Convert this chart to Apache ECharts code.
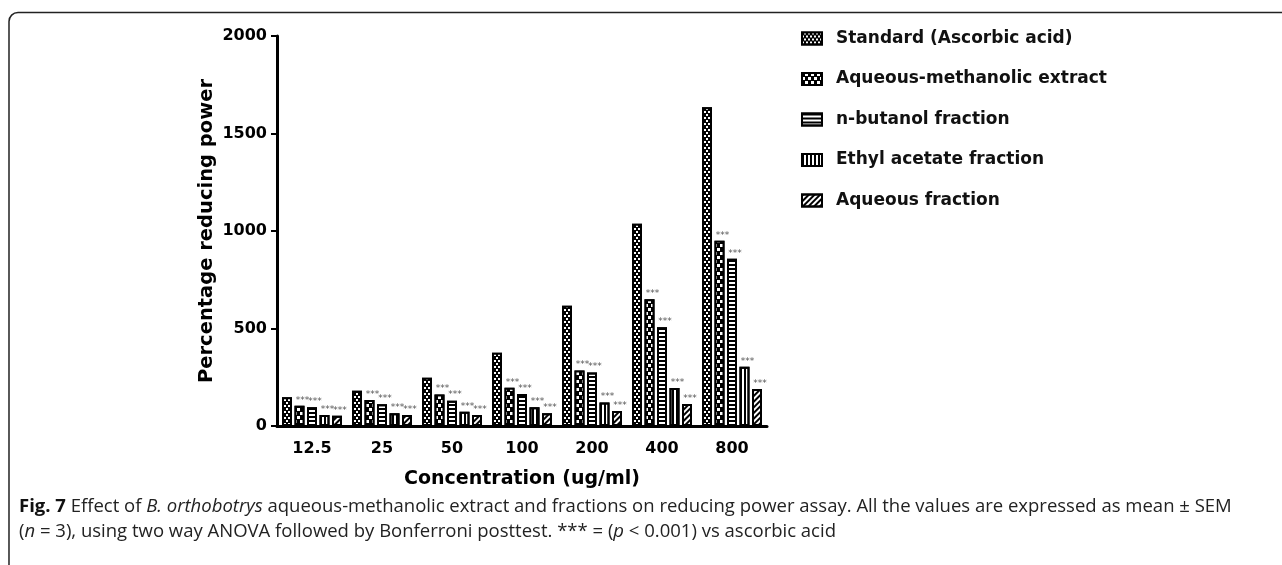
<!DOCTYPE html>
<html style="height: 100%">
<head>
  <meta charset="utf-8">
</head>
<body style="height: 100%; margin: 0; background: #fff">
  <div id="container" style="width: 1282px; height: 565px"></div>

  <script type="text/javascript" src="https://cdn.jsdelivr.net/npm/echarts@6/dist/echarts.min.js"></script>
  <script type="text/javascript">
    // concentrations (ug/ml)
    const categories = ['12.5', '25', '50', '100', '200', '400', '800'];
    const seriesNames = [
      'Standard (Ascorbic acid)',
      'Aqueous-methanolic extract',
      'n-butanol fraction',
      'Ethyl acetate fraction',
      'Aqueous fraction'
    ];
    // percentage reducing power
    const standard = [147, 181, 248, 376, 617, 1037, 1634];
    const aqMethanolic = [104, 133, 162, 196, 284, 650, 950];
    const nButanol = [96, 111, 130, 164, 275, 506, 858];
    const ethylAcetate = [56, 65, 73, 96, 121, 195, 304];
    const aqueous = [53, 56, 56, 65, 77, 113, 190];
    const yTicks = [0, 500, 1000, 1500, 2000];

    var dom = document.getElementById('container');
    var myChart = echarts.init(dom);

    var FONT = 'DejaVu Sans';

    function hatch(color, dx, dy, rot) {
      return {
        symbol: 'rect',
        symbolSize: 1,
        symbolKeepAspect: false,
        color: color,
        backgroundColor: null,
        dashArrayX: dx,
        dashArrayY: dy,
        rotation: rot || 0,
        maxTileWidth: 512,
        maxTileHeight: 512
      };
    }

    // fill + hatch pattern per series (black & white figure)
    const styles = [
      { fill: '#000', decal: hatch('#fff', [[2, 2], [0, 2, 2, 0]], [2, 1]) },
      { fill: '#000', decal: hatch('#fff', [[3, 3], [0, 3, 3, 0]], [3, 1]) },
      { fill: '#fff', decal: hatch('#000', [1, 0], [2, 2]) },
      { fill: '#fff', decal: hatch('#000', [2, 2], [1, 0]) },
      { fill: '#fff', decal: hatch('#000', [1, 0], [2, 2], -Math.PI / 4) }
    ];
    const values = [standard, aqMethanolic, nButanol, ethylAcetate, aqueous];

    const seriesList = values.map(function (data, i) {
      return {
        name: seriesNames[i],
        type: 'bar',
        data: data,
        barWidth: 10,
        barGap: '25%',
        itemStyle: {
          color: styles[i].fill,
          borderColor: '#000',
          borderWidth: 2,
          decal: styles[i].decal
        },
        label: {
          show: i > 0,
          position: 'top',
          distance: 1,
          offset: [3, 0],
          formatter: '***',
          fontSize: 9,
          color: '#555'
        }
      };
    });

    var option = {
      animation: false,
      backgroundColor: '#fff',
      aria: { enabled: true, decal: { show: true } },
      textStyle: { fontFamily: FONT },
      legend: {
        orient: 'vertical',
        left: 796,
        top: 25,
        itemWidth: 20,
        itemHeight: 12,
        itemGap: 23.5,
        icon: 'rect',
        data: seriesNames,
        textStyle: {
          fontFamily: FONT,
          fontSize: 17,
          fontWeight: 'bold',
          color: '#111',
          lineHeight: 12,
          padding: [0, 0, 0, 9]
        },
        itemStyle: { borderColor: '#000', borderWidth: 2 }
      },
      grid: {
        left: 277,
        top: 36,
        width: 490,
        height: 390,
        containLabel: false
      },
      xAxis: {
        type: 'category',
        data: categories,
        name: 'Concentration (ug/ml)',
        nameLocation: 'middle',
        nameGap: 44,
        nameTextStyle: { fontFamily: FONT, fontSize: 19, fontWeight: 'bold', color: '#000' },
        axisLine: { lineStyle: { color: '#000', width: 3 } },
        axisTick: { alignWithLabel: true, length: 6, lineStyle: { width: 2, color: '#000' } },
        axisLabel: { fontFamily: FONT, fontSize: 16, fontWeight: 'bold', color: '#000', margin: 15 }
      },
      yAxis: {
        type: 'value',
        min: yTicks[0],
        max: yTicks[yTicks.length - 1],
        interval: 500,
        name: 'Percentage reducing power',
        nameLocation: 'middle',
        nameGap: 60,
        nameTextStyle: { fontFamily: FONT, fontSize: 19.5, fontWeight: 'bold', color: '#000' },
        splitLine: { show: false },
        axisLine: { show: true, lineStyle: { color: '#000', width: 3 } },
        axisTick: { show: true, length: 6, lineStyle: { width: 2, color: '#000' } },
        axisLabel: {
          fontFamily: FONT, fontSize: 16, fontWeight: 'bold', color: '#000', margin: 10,
          formatter: function (v) { return String(v); }
        }
      },
      graphic: [
        {
          type: 'rect',
          silent: true,
          shape: { x: 9, y: 12.5, width: 1320, height: 620, r: 9 },
          style: { fill: null, stroke: '#222', lineWidth: 1.5 }
        },
        {
          type: 'text',
          left: 19,
          top: 494,
          silent: true,
          style: {
            text: '{b|Fig. 7} Effect of {i|B. orthobotrys} aqueous-methanolic extract and fractions on reducing power assay. All the values are expressed as mean ± SEM\n' +
              '({i|n} = 3), using two way ANOVA followed by Bonferroni posttest. *** = ({i|p} < 0.001) vs ascorbic acid',
            fontFamily: 'Open Sans',
            fontSize: 18.5,
            lineHeight: 25,
            fill: '#222',
            rich: {
              b: { fontWeight: 'bold', fontFamily: 'Open Sans', fontSize: 18.5, lineHeight: 25, fill: '#111' },
              i: { fontStyle: 'italic', fontFamily: 'Open Sans', fontSize: 18.5, lineHeight: 25, fill: '#222' }
            }
          }
        }
      ],
      series: seriesList
    };

    myChart.setOption(option);
  </script>
</body>
</html>
